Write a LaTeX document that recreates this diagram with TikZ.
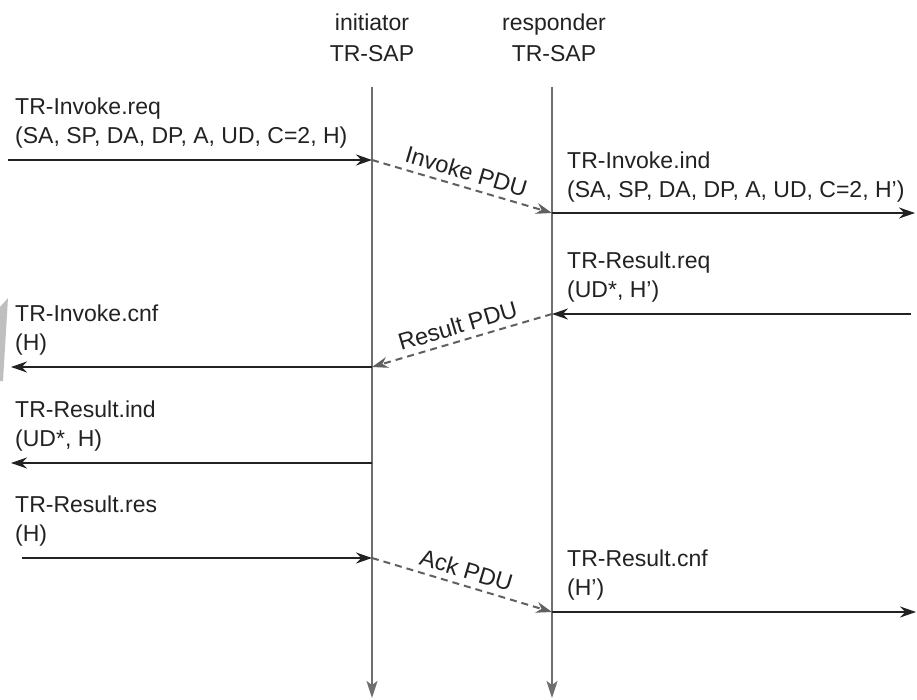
\documentclass[tikz,border=0pt]{standalone}
\usepackage{fontspec}
\setmainfont{Liberation Sans}
\usetikzlibrary{arrows.meta}
\definecolor{ink}{HTML}{222222}
\definecolor{lifegray}{HTML}{6E6E6E}
\definecolor{pdugray}{HTML}{606060}
\begin{document}
\begin{tikzpicture}[x=1pt,y=-1pt,
  lbl/.style={font=\fontsize{23}{29}\selectfont, inner sep=0pt, align=left, text=ink},
  head/.style={font=\fontsize{23}{31}\selectfont, inner sep=0pt, align=center, text=ink},
  pdulbl/.style={font=\fontsize{23.5}{28}\selectfont, text=ink, inner sep=1pt},
  lifeline/.style={draw=lifegray, line width=1.6pt, -{Stealth[length=17pt,width=11pt,inset=4pt]}, color=lifegray},
  prim/.style={draw=ink, line width=2.2pt, -{Stealth[length=16pt,width=11pt]}},
  pdu/.style={draw=pdugray, line width=2pt, dash pattern=on 7pt off 5pt, -{Stealth[length=16pt,width=11pt]}}
]
\useasboundingbox (0,0) rectangle (917,700);
\fill[white] (0,0) rectangle (917,700);

% small grey wedge at the left margin
\fill[black!25] (0,307) -- (8,298) -- (3,381) -- (0,381) -- cycle;

% lifeline headers
\node[head, anchor=south] (hinit) at (372,62) {initiator\\TR-SAP};
\node[head, anchor=south] (hresp) at (554,62) {responder\\TR-SAP};

% lifelines
\coordinate (itop) at (372,87);
\coordinate (ibot) at (372,698);
\coordinate (rtop) at (552,87);
\coordinate (rbot) at (552,698);
\draw[lifeline] (itop) -- (ibot);
\draw[lifeline] (rtop) -- (rbot);

% event points on the lifelines
\coordinate (i1) at (372,160);
\coordinate (r1) at (552,213);
\coordinate (r2) at (552,314);
\coordinate (i2) at (372,367);
\coordinate (i3) at (372,463);
\coordinate (i4) at (372,558);
\coordinate (r4) at (552,612);

% outer ends of the primitive arrows
\coordinate (l1) at (8,160);
\coordinate (e1) at (915,213);
\coordinate (e2) at (911,314);
\coordinate (l2) at (11,367);
\coordinate (l3) at (11,463);
\coordinate (l4) at (22,558);
\coordinate (e4) at (916,612);

% service primitives
\draw[prim] (l1) -- (i1);
\draw[prim] (r1) -- (e1);
\draw[prim] (e2) -- (r2);
\draw[prim] (i2) -- (l2);
\draw[prim] (i3) -- (l3);
\draw[prim] (l4) -- (i4);
\draw[prim] (r4) -- (e4);

% PDUs exchanged between the peers
\draw[pdu] (i1) -- node[pdulbl, sloped, above=5pt] (pinv) {Invoke PDU} (r1);
\draw[pdu] (r2) -- node[pdulbl, sloped, above=5pt] (pres) {Result PDU} (i2);
\draw[pdu] (i4) -- node[pdulbl, sloped, above=5pt] (pack) {Ack PDU} (r4);

% primitive labels
\node[lbl, anchor=south west] (t1) at (15,148) {TR-Invoke.req\\(SA, SP, DA, DP, A, UD, C=2, H)};
\node[lbl, anchor=south west] (t2) at (567,202) {TR-Invoke.ind\\(SA, SP, DA, DP, A, UD, C=2, H')};
\node[lbl, anchor=south west] (t3) at (567,302) {TR-Result.req\\(UD*, H')};
\node[lbl, anchor=south west] (t4) at (15,355) {TR-Invoke.cnf\\(H)};
\node[lbl, anchor=south west] (t5) at (15,451) {TR-Result.ind\\(UD*, H)};
\node[lbl, anchor=south west] (t6) at (15,546) {TR-Result.res\\(H)};
\node[lbl, anchor=south west] (t7) at (567,600) {TR-Result.cnf\\(H')};
\end{tikzpicture}
\end{document}
